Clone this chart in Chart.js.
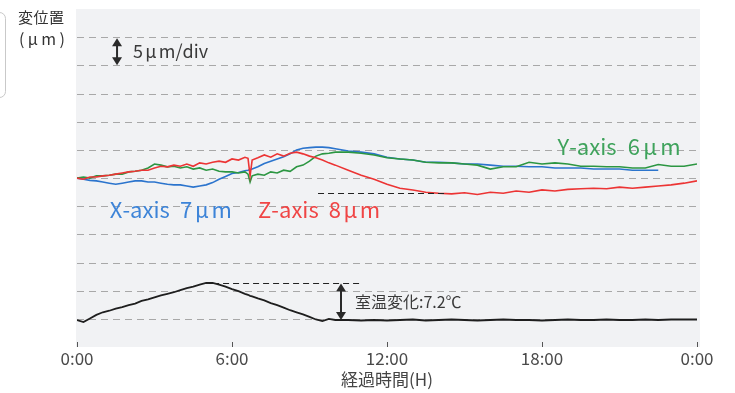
<!DOCTYPE html>
<html><head><meta charset="utf-8">
<script src="https://cdn.jsdelivr.net/npm/chart.js@4/dist/chart.umd.min.js"></script>
<style>html,body{margin:0;padding:0;background:#fff;}#wrap{width:735px;height:393px;position:relative;}</style>
</head><body><div id="wrap"><canvas id="c" width="735" height="393"></canvas></div>
<script>
// elapsed time (hours)
const hours = [0,0.25,0.5,0.75,1,1.25,1.5,1.75,2,2.25,2.5,2.75,3,3.25,3.5,3.75,4,4.25,4.5,4.75,5,5.25,5.5,5.75,6,6.25,6.5,
  6.62,6.7,6.78,
  7,7.25,7.5,7.75,8,8.25,8.5,8.75,9,9.25,9.5,9.75,10,
  10.5,11,11.5,12,12.5,13,13.5,14,14.5,15,15.5,16,16.5,17,17.5,18,18.5,19,19.5,20,20.5,21,21.5,22,22.5,23,23.5,24];
// displacement (µm)
const xAxisUm = [0,-0.2,-0.4,-0.5,-0.7,-0.9,-1.1,-0.9,-0.7,-0.5,-0.5,-0.7,-0.7,-0.9,-1.1,-1.2,-1.2,-1.4,-1.6,-1.4,-1.2,-0.8,-0.2,0.3,0.8,1.0,1.3,
  1.4,1.5,1.6,
  2.0,2.6,3.0,3.4,3.8,4.3,5.0,5.3,5.4,5.5,5.5,5.4,5.2,
  4.8,4.6,4.3,3.7,3.4,3.2,2.8,2.8,2.7,2.5,2.5,2.3,2.1,2.1,2.0,2.0,1.8,1.8,1.8,1.6,1.6,1.6,1.4,1.4,1.4,null,null,null];
const yAxisUm = [0,0.2,0,0.4,0.4,0.5,0.7,0.7,1.1,1.2,1.4,1.8,2.5,2.3,2.0,2.1,1.8,2.0,1.6,1.8,1.4,1.6,1.2,1.1,1.1,0.9,1.1,
  0.7,-0.7,0.4,
  0.7,0.5,1.1,0.9,1.4,1.2,2.0,2.3,3.0,3.9,4.3,4.4,4.6,
  4.6,4.4,4.1,3.6,3.4,3.2,2.8,2.7,2.7,2.5,2.3,1.6,2.0,2.0,2.8,2.5,2.7,2.5,2.1,2.1,2.0,2.0,1.8,1.8,2.4,2.1,2.1,2.5];
const zAxisUm = [0,-0.2,0.2,0.2,0.4,0.5,0.7,0.9,1.1,1.2,1.4,1.4,1.8,2.1,2.0,2.3,2.1,2.5,2.1,2.7,2.5,2.8,3.0,2.8,3.4,3.2,3.7,
  3.5,0.4,3.2,
  3.6,4.1,3.7,4.3,3.9,4.4,4.6,4.3,3.9,3.6,3.2,2.7,2.3,
  1.4,0.5,-0.2,-1.1,-1.8,-2.1,-2.5,-2.7,-2.8,-2.6,-2.9,-2.5,-2.7,-2.3,-2.5,-2.1,-2.3,-2.0,-1.9,-1.8,-1.9,-1.6,-1.8,-1.6,-1.4,-1.2,-0.9,-0.5];
// room temperature change (°C)
const roomTempDelta = [0,-0.4,0.3,1.0,1.5,1.8,2.2,2.5,2.9,3.2,3.7,4.0,4.4,4.8,5.1,5.4,5.8,6.2,6.5,6.9,7.2,7.2,6.9,6.5,6.0,5.6,5.1,
  4.9,4.7,4.6,
  4.2,3.8,3.3,2.9,2.4,1.9,1.5,1.1,0.6,0.1,-0.2,0.2,0.0,
  0.0,-0.1,0.0,-0.1,0.0,0.1,-0.1,0.0,0.1,0.0,-0.1,0.0,0.1,0.0,0.0,-0.1,0.0,0.1,0.0,0.0,0.1,0.0,0.0,0.1,0.0,0.1,0.1,0.1];
const tickHours = [0,6,12,18,24];
const tickLabels = ['0:00','6:00','12:00','18:00','0:00'];
const gridUm = [-25,-20,-15,-10,-5,0,5,10,15,20,25];

const FONT = "'Noto Sans CJK JP','Noto Sans',sans-serif";
const pts = arr => hours.map((h,i)=>({x:h,y:arr[i]}));

// draw text fitted to a width; extra space goes to the gaps weighted by flex()
function spreadText(ctx, text, x, y, width, flex){
  const chars = Array.from(text);
  const ws = chars.map(c=>ctx.measureText(c).width);
  const nat = ws.reduce((a,b)=>a+b,0);
  const wts = chars.slice(0,-1).map((c,i)=> flex ? flex(c,chars[i+1]) : 1);
  const sw = wts.reduce((a,b)=>a+b,0);
  const unit = sw>0 ? (width-nat)/sw : 0;
  let cx = x;
  ctx.textAlign='left';
  chars.forEach((c,i)=>{ ctx.fillText(c,cx,y); cx += ws[i] + (i<wts.length ? wts[i]*unit : 0); });
}
const muGap = (a,b)=> a===' ' ? 2 : ((a==='μ'||b==='μ') ? 1 : 0);

function dblArrow(ctx, px, yTop, yBot){
  const hw=5, hh=8;
  ctx.fillStyle='#2a2a2a'; ctx.strokeStyle='#2a2a2a'; ctx.lineWidth=2;
  ctx.beginPath(); ctx.moveTo(px,yTop+hh-1); ctx.lineTo(px,yBot-hh+1); ctx.stroke();
  ctx.beginPath(); ctx.moveTo(px,yTop); ctx.lineTo(px-hw,yTop+hh); ctx.lineTo(px+hw,yTop+hh); ctx.closePath(); ctx.fill();
  ctx.beginPath(); ctx.moveTo(px,yBot); ctx.lineTo(px-hw,yBot-hh); ctx.lineTo(px+hw,yBot-hh); ctx.closePath(); ctx.fill();
}

const bgPlugin = {
  id:'bg',
  beforeDraw(chart){
    const {ctx, chartArea:a} = chart;
    ctx.save();
    ctx.fillStyle='#ffffff'; ctx.fillRect(0,0,chart.width,chart.height);
    ctx.fillStyle='#f1f2f4'; ctx.fillRect(a.left-1,a.top,a.right-a.left+4,a.bottom-a.top+5);
    ctx.strokeStyle='#c9c9c9'; ctx.lineWidth=1;
    ctx.beginPath(); ctx.roundRect(-20.5,12.5,26,85,6); ctx.stroke();
    ctx.fillStyle='#333'; ctx.textBaseline='middle';
    ctx.font='15px '+FONT;
    spreadText(ctx,'変位置',18,17,46);
    ctx.font='16px '+FONT;
    spreadText(ctx,'(μm)',19,39,46);
    ctx.restore();
  },
  beforeDatasetsDraw(chart){
    const {ctx, chartArea:a, scales:{y}} = chart;
    ctx.save();
    ctx.strokeStyle='#a8a8a8'; ctx.lineWidth=1; ctx.setLineDash([7,5]);
    gridUm.forEach(v=>{
      const py = Math.round(y.getPixelForValue(v))+0.5;
      ctx.beginPath(); ctx.moveTo(a.left,py); ctx.lineTo(a.right+3,py); ctx.stroke();
    });
    ctx.restore();
  }
};

const annotPlugin = {
  id:'annot',
  afterDatasetsDraw(chart){
    const {ctx, scales:{x,y,y2}} = chart;
    ctx.save();
    ctx.strokeStyle='#222'; ctx.lineWidth=1.2; ctx.setLineDash([6,4]);
    let yy = Math.round(y2.getPixelForValue(7.2))+0.5;
    ctx.beginPath(); ctx.moveTo(x.getPixelForValue(4.88),yy); ctx.lineTo(x.getPixelForValue(10.96),yy); ctx.stroke();
    yy = Math.round(y.getPixelForValue(-2.66))+0.5;
    ctx.beginPath(); ctx.moveTo(x.getPixelForValue(9.33),yy); ctx.lineTo(x.getPixelForValue(14.3),yy); ctx.stroke();
    ctx.setLineDash([]);
    dblArrow(ctx, x.getPixelForValue(1.55), y.getPixelForValue(24.8), y.getPixelForValue(20));
    dblArrow(ctx, x.getPixelForValue(10.22), y2.getPixelForValue(7.1), y2.getPixelForValue(0));
    ctx.textBaseline='middle';
    ctx.font='18px '+FONT; ctx.fillStyle='#3a3a3a';
    spreadText(ctx,'5μm/div', x.getPixelForValue(2.17), y.getPixelForValue(22.5), 75, muGap);
    ctx.font='16px '+FONT;
    ctx.textAlign='left';
    ctx.fillText('室温変化:7.2℃', x.getPixelForValue(10.76), y2.getPixelForValue(3.5));
    ctx.font='22px '+FONT;
    const xa = x.getPixelForValue(1.27), za = x.getPixelForValue(7.01), ya = x.getPixelForValue(18.6);
    ctx.fillStyle='#3d84d8';
    spreadText(ctx,'X-axis 7μm', xa, y.getPixelForValue(-5.67), 122, muGap);
    ctx.fillStyle='#f04545';
    spreadText(ctx,'Z-axis 8μm', za, y.getPixelForValue(-5.67), 122, muGap);
    ctx.fillStyle='#3fa35c';
    spreadText(ctx,'Y-axis 6μm', ya, y.getPixelForValue(5.5), 123, muGap);
    ctx.restore();
  }
};

new Chart(document.getElementById('c'), {
  type:'line',
  data:{ datasets:[
    {label:'Z-axis', data:pts(zAxisUm), yAxisID:'y', borderColor:'#ec3434', order:1},
    {label:'Y-axis', data:pts(yAxisUm), yAxisID:'y', borderColor:'#2c9642', order:2},
    {label:'X-axis', data:pts(xAxisUm), yAxisID:'y', borderColor:'#2b74cd', order:3},
    {label:'室温', data:pts(roomTempDelta), yAxisID:'y2', borderColor:'#1e1e1e', borderWidth:1.8, order:4}
  ]},
  options:{
    responsive:false, animation:false, devicePixelRatio:1,
    layout:{padding:{left:77,right:38,top:9,bottom:0}},
    elements:{point:{radius:0}, line:{borderWidth:1.6, tension:0, fill:false}},
    plugins:{legend:{display:false}, tooltip:{enabled:false}},
    scales:{
      x:{type:'linear', min:0, max:24,
        afterBuildTicks(s){ s.ticks = tickHours.map(v=>({value:v})); },
        afterFit(s){ s.height = 51; },
        ticks:{callback:(v,i)=>tickLabels[i], color:'#4a4a4a', font:{family:FONT,size:17}, padding:1, maxRotation:0, autoSkip:false},
        grid:{drawOnChartArea:false, drawTicks:true, tickLength:5, color:'#555', lineWidth:1},
        border:{display:false},
        title:{display:true, text:'経過時間(H)', color:'#444', font:{family:FONT,size:17}, padding:{top:0,bottom:3}}
      },
      y:{type:'linear', min:-29.08, max:30, position:'left',
        afterBuildTicks(s){ s.ticks = gridUm.map(v=>({value:v})); },
        afterFit(s){ s.width = 0; },
        ticks:{display:false},
        grid:{display:false, drawTicks:false},
        border:{display:false}
      },
      y2:{type:'linear', min:-4.28, max:60.5, display:false}
    }
  },
  plugins:[bgPlugin, annotPlugin]
});
</script>
</body></html>
